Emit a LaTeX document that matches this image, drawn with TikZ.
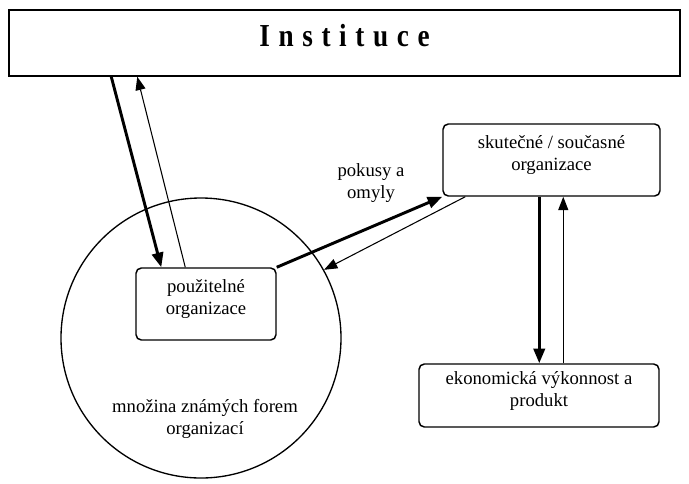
\documentclass[tikz,border=0pt]{standalone}
\usepackage{fontspec}
\setmainfont{Liberation Serif}
\newfontfamily\instfont[LetterSpace=27, FakeStretch=0.85]{Liberation Serif}
\usepackage{tikz}
\usetikzlibrary{positioning, arrows.meta}

\begin{document}
\begin{tikzpicture}[
    x=0.75pt, y=-0.75pt,
    box/.style={
        draw,
        rounded corners=4pt,
        align=center,
        line width=1.1pt,
        font=\fontsize{14}{16.5}\selectfont,
        execute at end node={\rule[-10pt]{0pt}{10pt}}
    },
    heavy/.style={-{Triangle[length=11pt,width=8.5pt]}, line width=2.2pt},
    light/.style={-{Triangle[length=10pt,width=7.5pt]}, line width=0.8pt},
    txt/.style={align=center, font=\fontsize{14}{16.5}\selectfont}
]
\useasboundingbox (0,0) rectangle (689,483);

% circle of known forms
\node (set) [draw, circle, line width=1pt, minimum size=210pt] at (201,338) {};
\node (setlabel) [txt] at (205,419) {množina známých forem\\organizací};

\node (inst) [box, rounded corners=0pt, minimum width=503.25pt, minimum height=49.5pt,
    font=\instfont\fontsize{24}{28}\selectfont\bfseries,
    execute at end node={\rule[-11pt]{0pt}{11pt}}] at (344.5,43) {Instituce};
\node (pouz) [box, minimum width=105pt, minimum height=54pt] at (206,304) {použitelné\\organizace};
\node (skut) [box, minimum width=162.75pt, minimum height=54pt] at (551.5,160) {skutečné / současné\\organizace};
\node (ekon) [box, minimum width=180pt, minimum height=47.25pt,
    execute at end node={\rule[-7pt]{0pt}{7pt}}] at (539,395.5) {ekonomická výkonnost a\\produkt};
\node (trial) [txt] at (371,183) {pokusy a\\omyly};

\draw[heavy] ([xshift=77.25pt]inst.south west) -- ([xshift=19.5pt]pouz.north west);
\draw[light] ([xshift=37.5pt]pouz.north west) -- ([xshift=96.75pt]inst.south west);

\draw[heavy] (pouz.north east) -- (skut.south west);
\draw[light] ([xshift=17.25pt]skut.south west) -- (set.29.5);

\draw[heavy] ([xshift=72.75pt]skut.south west) coordinate (down) -- (down |- ekon.north);
\draw[light] ([xshift=108.75pt]ekon.north west) coordinate (up) -- (up |- skut.south);

\end{tikzpicture}
\end{document}
